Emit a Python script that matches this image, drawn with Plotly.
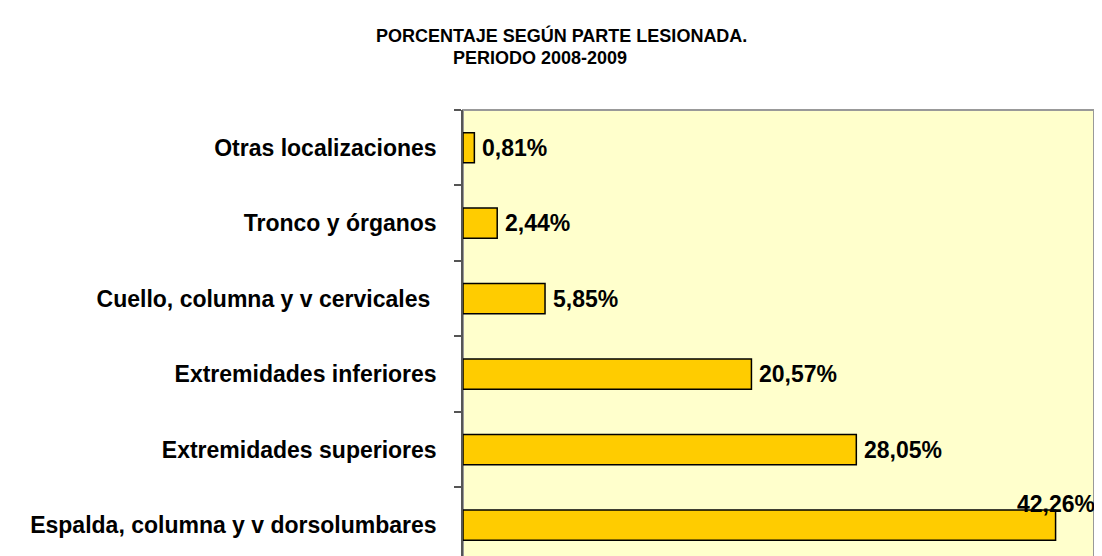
import plotly.graph_objects as go

categories = [
    "Espalda, columna y v dorsolumbares",
    "Extremidades superiores",
    "Extremidades inferiores",
    "Cuello, columna y v cervicales ",
    "Tronco y órganos",
    "Otras localizaciones",
]
values = [42.26, 28.05, 20.57, 5.85, 2.44, 0.81]
value_labels = ["42,26%", "28,05%", "20,57%", "5,85%", "2,44%", "0,81%"]
title_lines = ["PORCENTAJE SEGÚN PARTE LESIONADA.", "PERIODO 2008-2009"]

X_MAX = 45
FONT = "Liberation Sans, Arial, sans-serif"
LABEL_SIZE = 23
TITLE_SIZE = 18

# page body has an 8px margin; figure coords = screen coords - 8
OFF = 8
W, H = 1102 - OFF, 556 - OFF
PL, PR, PT, PB = 463 - OFF, 1094 - OFF, 110 - OFF, H

fig = go.Figure()
fig.add_trace(go.Bar(
    x=values,
    y=categories,
    orientation="h",
    width=0.4,
    marker=dict(color="#FFCC00", line=dict(color="#000000", width=1.5)),
    hoverinfo="skip",
))

annotations = []
for v, c, t in zip(values, categories, value_labels):
    if v > X_MAX * 0.85:
        annotations.append(dict(x=v, y=c, xref="x", yref="y", text=t, showarrow=False,
                                xanchor="center", yanchor="middle", yshift=21,
                                font=dict(family=FONT, size=LABEL_SIZE, color="#000", weight="bold")))
    else:
        annotations.append(dict(x=v, y=c, xref="x", yref="y", text=t, showarrow=False,
                                xanchor="left", yanchor="middle", xshift=6,
                                font=dict(family=FONT, size=LABEL_SIZE, color="#000", weight="bold")))

def px_to_paper_x(px):
    return (px - OFF - PL) / (PR - PL)
def px_to_paper_y(py):
    return (PB - (py - OFF)) / (PB - PT)

annotations.append(dict(x=px_to_paper_x(561), y=px_to_paper_y(36), xref="paper", yref="paper",
                        text=title_lines[0], showarrow=False, xanchor="center", yanchor="middle",
                        font=dict(family=FONT, size=TITLE_SIZE, color="#000", weight="bold")))
annotations.append(dict(x=px_to_paper_x(540), y=px_to_paper_y(58), xref="paper", yref="paper",
                        text=title_lines[1], showarrow=False, xanchor="center", yanchor="middle",
                        font=dict(family=FONT, size=TITLE_SIZE, color="#000", weight="bold")))

fig.update_layout(
    width=W, height=H,
    margin=dict(l=PL, r=W - PR, t=PT, b=0),
    paper_bgcolor="white",
    plot_bgcolor="#FFFFCC",
    showlegend=False,
    annotations=annotations,
    shapes=[dict(type="rect", xref="paper", yref="paper", x0=0, x1=1, y0=-0.2, y1=1,
                 line=dict(color="#999999", width=2), layer="below")],
)
fig.update_xaxes(range=[0, X_MAX], showgrid=False, zeroline=False, showticklabels=False,
                 showline=False, ticks="")
fig.update_yaxes(
    type="category",
    range=[-0.41, 5.5],
    showgrid=False, zeroline=False,
    showline=True, linecolor="#555555", linewidth=1.5,
    ticks="outside", ticklen=7, tickcolor="#555555", tickwidth=1.5,
    tickson="boundaries",
    ticklabelstandoff=20,
    tickfont=dict(family=FONT, size=LABEL_SIZE, color="#000", weight="bold"),
)

fig.write_html("out.html")
